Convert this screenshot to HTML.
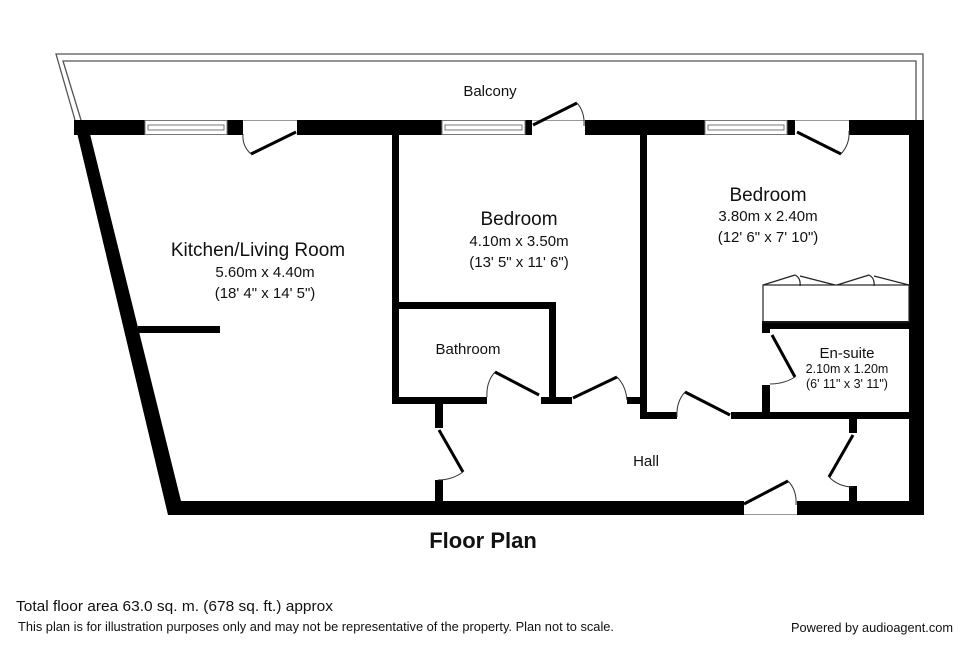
<!DOCTYPE html>
<html><head><meta charset="utf-8"><style>
html,body{margin:0;padding:0;background:#fff;}
svg{display:block;}
text{font-family:"Liberation Sans",Arial,sans-serif;fill:#111;}
</style></head><body>
<svg width="970" height="646" viewBox="0 0 970 646" xmlns="http://www.w3.org/2000/svg">
<polyline points="75,120 56,54 923,54 923,120" fill="none" stroke="#555" stroke-width="1.3"/>
<polyline points="81,120 63,61 916,61 916,120" fill="none" stroke="#555" stroke-width="1.3"/>
<polygon points="74,120 90,120 90,134 181,501 181,515 168,515" fill="#000"/>
<g fill="#000">
<rect x="74" y="120" width="71" height="15"/>
<rect x="227" y="120" width="16" height="15"/>
<rect x="297" y="120" width="145" height="15"/>
<rect x="525" y="120" width="7" height="15"/>
<rect x="585" y="120" width="120" height="15"/>
<rect x="787" y="120" width="8" height="15"/>
<rect x="849" y="120" width="75" height="15"/>
<rect x="909" y="120" width="15" height="395"/>
<rect x="175" y="501" width="569" height="14"/>
<rect x="797" y="501" width="127" height="14"/>
<rect x="138" y="326" width="82" height="7"/>
<rect x="392" y="134" width="7" height="269"/>
<rect x="392" y="302" width="164" height="7"/>
<rect x="549" y="302" width="7" height="101"/>
<rect x="392" y="397" width="95" height="7"/>
<rect x="541" y="397" width="31" height="7"/>
<rect x="627" y="397" width="16" height="7"/>
<rect x="640" y="134" width="7" height="285"/>
<rect x="640" y="412" width="37" height="7"/>
<rect x="731" y="412" width="180" height="7"/>
<rect x="435" y="403" width="8" height="25"/>
<rect x="435" y="480" width="8" height="22"/>
<rect x="849" y="419" width="8" height="14"/>
<rect x="849" y="486" width="8" height="16"/>
<rect x="762" y="321" width="148" height="8"/>
<rect x="762" y="321" width="8" height="12"/>
<rect x="762" y="385" width="8" height="28"/>
</g>
<g fill="#fff" stroke="#777" stroke-width="1">
<rect x="145" y="120.5" width="82" height="14"/>
<rect x="148" y="125" width="76" height="5"/>
<rect x="442" y="120.5" width="83" height="14"/>
<rect x="445" y="125" width="77" height="5"/>
<rect x="705" y="120.5" width="82" height="14"/>
<rect x="708" y="125" width="76" height="5"/>
</g>
<g stroke="#999" stroke-width="1">
<line x1="243" y1="120.5" x2="297" y2="120.5"/>
<line x1="532" y1="120.5" x2="585" y2="120.5"/>
<line x1="795" y1="120.5" x2="849" y2="120.5"/>
<line x1="744" y1="514.5" x2="797" y2="514.5"/>
</g>
<g stroke="#000" stroke-width="3" stroke-linecap="butt">
<line x1="296" y1="132" x2="251" y2="154"/>
<line x1="533" y1="125" x2="577" y2="103"/>
<line x1="797" y1="132" x2="841" y2="154"/>
<line x1="539" y1="395" x2="495" y2="372"/>
<line x1="573" y1="398" x2="617" y2="377"/>
<line x1="439" y1="430" x2="463" y2="472"/>
<line x1="730" y1="415" x2="685" y2="392"/>
<line x1="772" y1="335" x2="795" y2="377"/>
<line x1="853" y1="435" x2="829" y2="477"/>
<line x1="744" y1="504" x2="788" y2="481"/>
</g>
<g fill="none" stroke="#333" stroke-width="1">
<path d="M251,154 Q242,146 243,134"/>
<path d="M577,103 Q585,112 584,126"/>
<path d="M841,154 Q850,144 849,131"/>
<path d="M495,372 Q486,382 487,397"/>
<path d="M617,377 Q626,386 627,400"/>
<path d="M463,472 Q452,480 438,480"/>
<path d="M685,392 Q676,402 677,417"/>
<path d="M795,377 Q784,384 770,384"/>
<path d="M829,477 Q839,487 853,487"/>
<path d="M788,481 Q797,490 796,505"/>
</g>
<g fill="none" stroke="#222" stroke-width="1.2">
<rect x="763" y="285" width="146" height="37"/>
<path d="M763,285 L795,275 M795,275 Q801,278 800,286 M800,276 L835,285"/>
<path d="M837,285 L869,275 M869,275 Q875,278 874,286 M874,276 L909,285"/>
</g>
<text x="490" y="96" font-size="15" text-anchor="middle">Balcony</text>
<text x="258" y="256" font-size="19" text-anchor="middle">Kitchen/Living Room</text>
<text x="265" y="277" font-size="15" text-anchor="middle">5.60m x 4.40m</text>
<text x="265" y="298" font-size="15" text-anchor="middle">(18' 4" x 14' 5")</text>
<text x="519" y="225" font-size="19" text-anchor="middle">Bedroom</text>
<text x="519" y="246" font-size="15" text-anchor="middle">4.10m x 3.50m</text>
<text x="519" y="267" font-size="15" text-anchor="middle">(13' 5" x 11' 6")</text>
<text x="768" y="201" font-size="19" text-anchor="middle">Bedroom</text>
<text x="768" y="221" font-size="15" text-anchor="middle">3.80m x 2.40m</text>
<text x="768" y="242" font-size="15" text-anchor="middle">(12' 6" x 7' 10")</text>
<text x="468" y="354" font-size="15" text-anchor="middle">Bathroom</text>
<text x="847" y="358" font-size="15" text-anchor="middle">En-suite</text>
<text x="847" y="373" font-size="12.5" text-anchor="middle">2.10m x 1.20m</text>
<text x="847" y="388" font-size="12.5" text-anchor="middle">(6' 11" x 3' 11")</text>
<text x="646" y="466" font-size="15" text-anchor="middle">Hall</text>
<text x="483" y="548" font-size="22" font-weight="bold" text-anchor="middle">Floor Plan</text>
<text x="16" y="611" font-size="15" textLength="317" lengthAdjust="spacingAndGlyphs">Total floor area 63.0 sq. m. (678 sq. ft.) approx</text>
<text x="18" y="631" font-size="13" textLength="596" lengthAdjust="spacingAndGlyphs">This plan is for illustration purposes only and may not be representative of the property. Plan not to scale.</text>
<text x="791" y="632" font-size="13" textLength="162" lengthAdjust="spacingAndGlyphs">Powered by audioagent.com</text>
</svg>
</body></html>
